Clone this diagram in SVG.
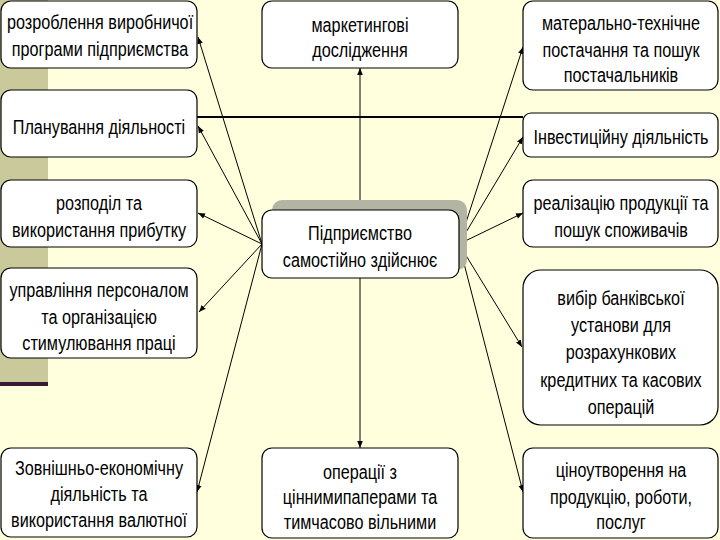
<svg xmlns="http://www.w3.org/2000/svg" width="720" height="540" viewBox="0 0 720 540">
<defs>
<style>
.box{fill:#ffffff;stroke:#000000;stroke-width:1.2}
.t{font-family:"Liberation Sans",Arial,sans-serif;font-size:20px;fill:#000000;text-anchor:middle}
.c{stroke:#000000;stroke-width:1;fill:none;marker-end:url(#ah)}
</style>
<marker id="ah" viewBox="0 0 10 10" refX="10" refY="5" markerWidth="7" markerHeight="7" orient="auto" markerUnits="userSpaceOnUse">
<path d="M0,1 L10,5 L0,9 z" fill="#000000"/>
</marker>
</defs>
<rect x="0" y="0" width="720" height="540" fill="#ffffdd"/>
<rect x="0" y="0" width="48" height="382" fill="#c9c99b"/>
<rect x="0" y="382" width="48" height="4" fill="#3a1a30"/>

<g id="connectors">
<line x1="197" y1="117" x2="523" y2="117" stroke="#000000" stroke-width="2"/>
<line class="c" x1="262" y1="244" x2="198" y2="37"/>
<line class="c" x1="262" y1="244" x2="198" y2="126"/>
<line class="c" x1="262" y1="244" x2="198" y2="213"/>
<line class="c" x1="262" y1="244" x2="199" y2="312"/>
<line class="c" x1="262" y1="244" x2="197" y2="492"/>
<line class="c" x1="360" y1="210" x2="360" y2="68"/>
<line class="c" x1="360" y1="278" x2="360" y2="448"/>
<line class="c" x1="459" y1="244" x2="523" y2="47"/>
<line class="c" x1="459" y1="244" x2="523" y2="137"/>
<line class="c" x1="459" y1="244" x2="523" y2="213"/>
<line class="c" x1="459" y1="244" x2="522" y2="347"/>
<line class="c" x1="459" y1="244" x2="523" y2="492"/>
</g>

<g id="n-rozroblennia">
<rect class="box" x="1" y="1" width="196" height="67" rx="10"/>
<g transform="translate(100,0) scale(0.81,1)">
<text class="t" x="0" y="29">розроблення виробничої</text>
<text class="t" x="0" y="56">програми підприємства</text>
</g>
</g>
<g id="n-planuvannia">
<rect class="box" x="1" y="90" width="196" height="67" rx="10"/>
<g transform="translate(99,0) scale(0.81,1)">
<text class="t" x="0" y="134">Планування діяльності</text>
</g>
</g>
<g id="n-rozpodil">
<rect class="box" x="1" y="180" width="196" height="67" rx="10"/>
<g transform="translate(99,0) scale(0.81,1)">
<text class="t" x="0" y="210">розподіл та</text>
<text class="t" x="0" y="237">використання прибутку</text>
</g>
</g>
<g id="n-upravlinnia">
<rect class="box" x="1" y="268" width="196" height="90" rx="10"/>
<g transform="translate(99,0) scale(0.81,1)">
<text class="t" x="0" y="297">управління персоналом</text>
<text class="t" x="0" y="324">та організацією</text>
<text class="t" x="0" y="350">стимулювання праці</text>
</g>
</g>
<g id="n-zovnishnio">
<rect class="box" x="1" y="448" width="196" height="89" rx="10"/>
<g transform="translate(99,0) scale(0.81,1)">
<text class="t" x="0" y="475">Зовнішньо-економічну</text>
<text class="t" x="0" y="501">діяльність та</text>
<text class="t" x="0" y="527">використання валютної</text>
</g>
</g>

<g id="n-marketynh">
<rect class="box" x="262" y="1" width="196" height="67" rx="10"/>
<g transform="translate(360,0) scale(0.81,1)">
<text class="t" x="0" y="32">маркетингові</text>
<text class="t" x="0" y="57">дослідження</text>
</g>
</g>
<g id="n-center">
<rect x="272" y="200" width="195" height="70" rx="10" fill="#b4b4a4"/>
<rect class="box" x="262" y="210" width="197" height="68" rx="10"/>
<g transform="translate(360,0) scale(0.81,1)">
<text class="t" x="0" y="240">Підприємство</text>
<text class="t" x="0" y="267">самостійно здійснює</text>
</g>
</g>
<g id="n-operatsii">
<rect class="box" x="262" y="448" width="196" height="90" rx="10"/>
<g transform="translate(360,0) scale(0.81,1)">
<text class="t" x="0" y="479">операції з</text>
<text class="t" x="0" y="504">ціннимипаперами та</text>
<text class="t" x="0" y="529">тимчасово вільними</text>
</g>
</g>

<g id="n-material">
<rect class="box" x="523" y="1" width="195" height="89" rx="10"/>
<g transform="translate(621,0) scale(0.81,1)">
<text class="t" x="0" y="30">матерально-технічне</text>
<text class="t" x="0" y="57">постачання та пошук</text>
<text class="t" x="0" y="82">постачальників</text>
</g>
</g>
<g id="n-investytsii">
<rect class="box" x="523" y="113" width="195" height="44" rx="8"/>
<g transform="translate(621,0) scale(0.81,1)">
<text class="t" x="0" y="144">Інвестиційну діяльність</text>
</g>
</g>
<g id="n-realizatsiia">
<rect class="box" x="523" y="180" width="195" height="67" rx="10"/>
<g transform="translate(621,0) scale(0.81,1)">
<text class="t" x="0" y="210">реалізацію продукції та</text>
<text class="t" x="0" y="237">пошук споживачів</text>
</g>
</g>
<g id="n-bank">
<rect class="box" x="523" y="270" width="195" height="155" rx="18"/>
<g transform="translate(621,0) scale(0.81,1)">
<text class="t" x="0" y="305">вибір банківської</text>
<text class="t" x="0" y="332">установи для</text>
<text class="t" x="0" y="359">розрахункових</text>
<text class="t" x="0" y="387">кредитних та касових</text>
<text class="t" x="0" y="414">операцій</text>
</g>
</g>
<g id="n-tsina">
<rect class="box" x="523" y="448" width="195" height="90" rx="10"/>
<g transform="translate(621,0) scale(0.81,1)">
<text class="t" x="0" y="477">ціноутворення на</text>
<text class="t" x="0" y="504">продукцію, роботи,</text>
<text class="t" x="0" y="529">послуг</text>
</g>
</g>
</svg>
